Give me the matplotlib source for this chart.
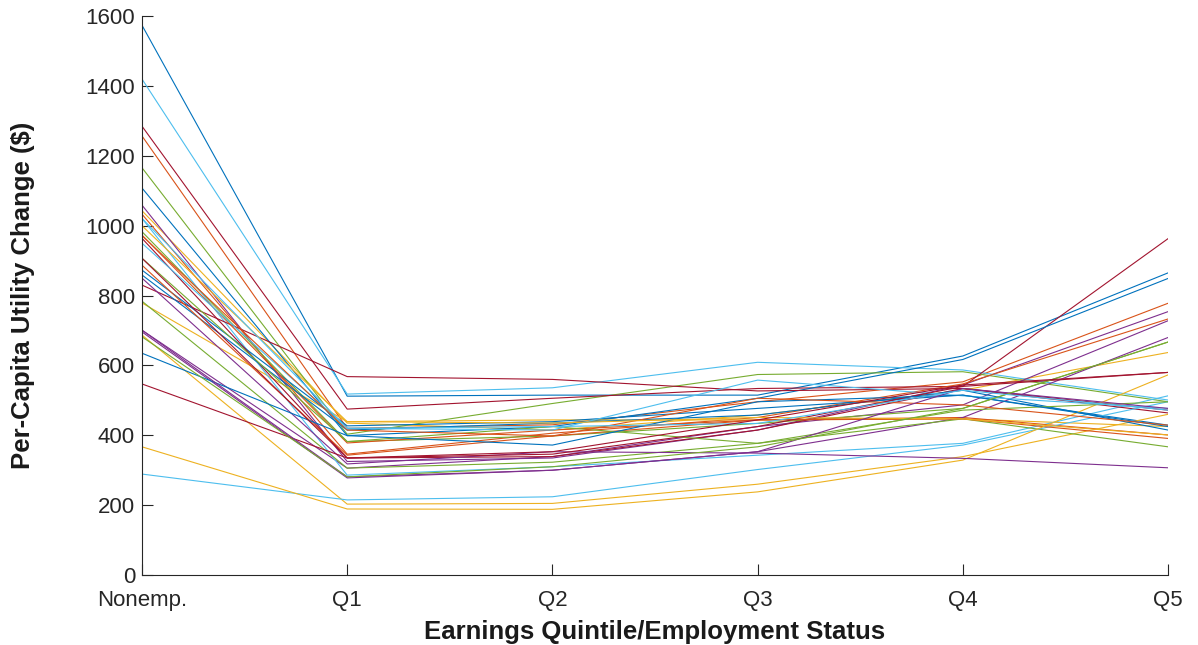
import matplotlib
matplotlib.use('Agg')
import matplotlib.pyplot as plt

# MATLAB default colour order
colors = ['#0072BD', '#D95319', '#EDB120', '#7E2F8E', '#77AC30', '#4DBEEE', '#A2142F']

categories = ['Nonemp.', 'Q1', 'Q2', 'Q3', 'Q4', 'Q5']

# per-capita utility change, one list per series
s01 = [1574, 512, 515, 515, 627, 865]
s02 = [1257, 420, 430, 496, 553, 778]
s03 = [1043, 435, 415, 458, 529, 637]
s04 = [1059, 325, 335, 415, 544, 754]
s05 = [1166, 403, 491, 574, 582, 496]
s06 = [1420, 518, 536, 609, 587, 501]
s07 = [1285, 475, 506, 534, 540, 963]
s08 = [1108, 399, 425, 506, 617, 849]
s09 = [1033, 346, 406, 451, 547, 733]
s10 = [779, 439, 444, 444, 447, 425]
s11 = [701, 306, 339, 425, 487, 728]
s12 = [983, 382, 398, 434, 477, 667]
s13 = [1021, 286, 310, 343, 377, 513]
s14 = [830, 568, 560, 527, 534, 464]
s15 = [873, 427, 439, 477, 515, 429]
s16 = [973, 378, 415, 444, 451, 401]
s17 = [687, 203, 205, 260, 339, 460]
s18 = [696, 278, 300, 353, 451, 680]
s19 = [784, 306, 323, 377, 447, 367]
s20 = [289, 215, 224, 302, 372, 496]
s21 = [964, 335, 339, 415, 534, 472]
s22 = [859, 415, 435, 458, 529, 415]
s23 = [887, 343, 398, 444, 447, 391]
s24 = [367, 189, 188, 238, 329, 573]
s25 = [850, 318, 353, 349, 334, 307]
s26 = [907, 382, 425, 377, 472, 496]
s27 = [950, 420, 415, 558, 513, 477]
s28 = [547, 335, 346, 425, 540, 580]
s29 = [635, 399, 372, 496, 515, 425]
s30 = [972, 415, 398, 506, 487, 429]
s31 = [1000, 439, 435, 451, 447, 401]
s32 = [701, 281, 300, 353, 534, 477]
s33 = [682, 281, 310, 367, 477, 667]
s34 = [1021, 420, 425, 434, 529, 472]
s35 = [907, 335, 353, 444, 544, 580]

series = [s01, s02, s03, s04, s05, s06, s07, s08, s09, s10, s11, s12,
          s13, s14, s15, s16, s17, s18, s19, s20, s21, s22, s23, s24,
          s25, s26, s27, s28, s29, s30, s31, s32, s33, s34, s35]

plt.rcParams['font.family'] = ['Liberation Sans', 'DejaVu Sans']

fig = plt.figure(figsize=(11.98, 6.45), dpi=100)
ax = fig.add_axes([0.1185, 0.1085, 0.8565, 0.8665])

x = list(range(len(categories)))
for i, s in enumerate(series):
    ax.plot(x, s, color=colors[i % 7], lw=0.8)

ax.set_xlim(0, 5)
ax.set_ylim(0, 1600)
ax.set_xticks(x)
ax.set_xticklabels(categories)
ax.set_yticks(range(0, 1601, 200))
ax.tick_params(direction='in', labelsize=16, labelcolor='#262626', color='#262626',
               length=8, width=0.8)
ax.tick_params(axis='x', pad=11)
ax.tick_params(axis='y', pad=5)
for side in ['top', 'right']:
    ax.spines[side].set_visible(False)
for side in ['left', 'bottom']:
    ax.spines[side].set_color('#262626')
    ax.spines[side].set_linewidth(0.8)

ax.set_xlabel('Earnings Quintile/Employment Status', fontsize=18.5, fontweight='bold',
              color='#1a1a1a', labelpad=6)
ax.set_ylabel('Per-Capita Utility Change ($)', fontsize=18.5, fontweight='bold',
              color='#1a1a1a', labelpad=36)

fig.savefig('out.png', dpi=100)
